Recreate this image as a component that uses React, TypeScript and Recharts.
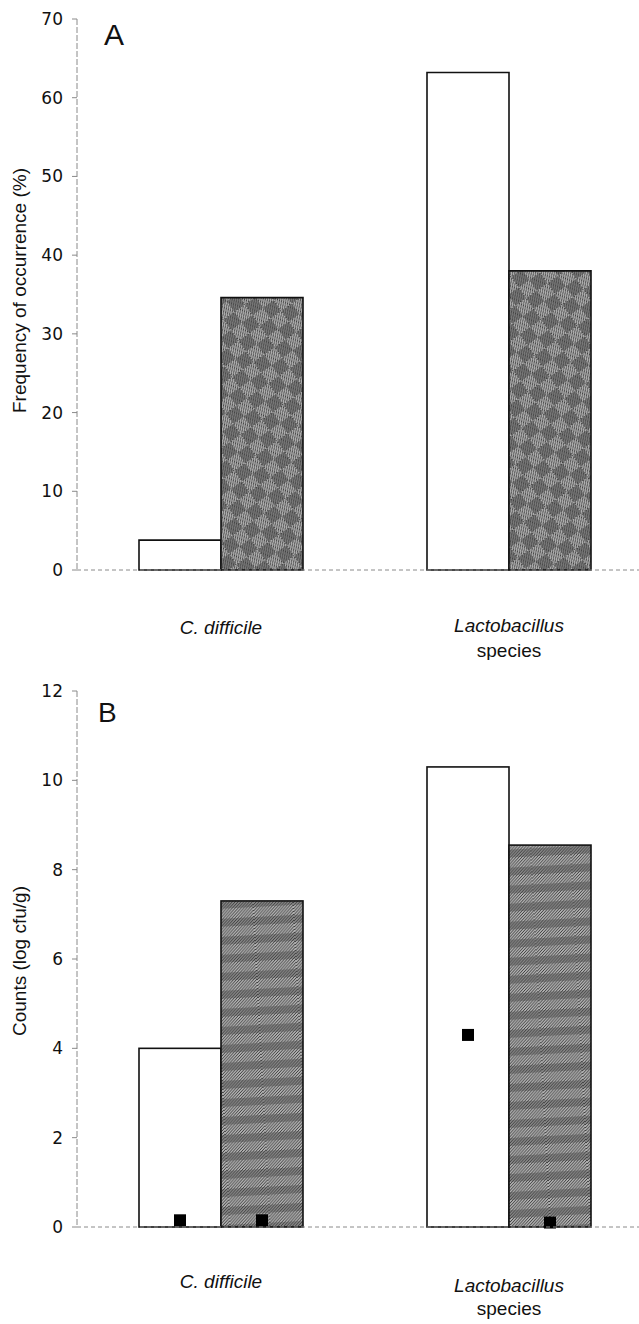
import { BarChart, Bar, XAxis, YAxis, Label } from 'recharts'

const categories = ['C. difficile', 'Lactobacillus species']

// panel A: frequency of occurrence (%)
const freqBefore = [3.8, 63.2]
const freqAfter = [34.6, 38.0]
const freqTicks = [0, 10, 20, 30, 40, 50, 60, 70]

// panel B: counts (log cfu/g), bars and the black square markers
const countBefore = [4.0, 10.3]
const countAfter = [7.3, 8.55]
const markerBefore = [0.15, 4.3]
const markerAfter = [0.15, 0.1]
const countTicks = [0, 2, 4, 6, 8, 10, 12]

const dataA = categories.map((c, i) => ({ name: c, before: freqBefore[i], after: freqAfter[i] }))
const dataB = categories.map((c, i) => ({
  name: c,
  before: countBefore[i],
  after: countAfter[i],
  mBefore: markerBefore[i],
  mAfter: markerAfter[i],
}))

const FONT = '"Liberation Sans", Arial, sans-serif'
const TICK_FONT = '"DejaVu Sans", sans-serif'
const AXIS = '#8a8a8a'

function CatTick({ x, y, payload, dyOne, dyLacto, dyGap }: any) {
  const v: string = payload.value
  if (v.startsWith('Lactobacillus')) {
    return (
      <text x={x} y={y} textAnchor="middle" fontSize={19} fill="#111" fontFamily={FONT}>
        <tspan x={x} dy={dyLacto} fontStyle="italic">Lactobacillus</tspan>
        <tspan x={x} dy={dyGap}>species</tspan>
      </text>
    )
  }
  return (
    <text x={x} y={y} dy={dyOne} textAnchor="middle" fontSize={19} fontStyle="italic" fill="#111" fontFamily={FONT}>
      {v}
    </text>
  )
}

function MarkedBar(props: any) {
  const { x, y, width, height, fill, payload, valueKey, markerKey } = props
  const ppu = height / payload[valueKey]
  const my = y + height - payload[markerKey] * ppu
  return (
    <g>
      <rect x={x} y={y} width={width} height={height} fill={fill} stroke="#111" strokeWidth={1.6} />
      <rect x={x + width / 2 - 6} y={my - 6} width={12} height={12} fill="#000" />
    </g>
  )
}

function Patterns() {
  return (
    <svg width={0} height={0} style={{ position: 'absolute' }}>
      <defs>
        <pattern id="hatch" patternUnits="userSpaceOnUse" width={3} height={3}>
          <rect width={3} height={3} fill="#b0b0b0" />
          <path d="M0,3 L3,0" stroke="#3c3c3c" strokeWidth={1} />
        </pattern>
        <pattern id="checkA" patternUnits="userSpaceOnUse" width={26} height={26} patternTransform="rotate(-35)">
          <rect width={26} height={26} fill="url(#hatch)" />
          <rect x={0} y={0} width={13} height={13} fill="#444" opacity={0.5} />
          <rect x={13} y={13} width={13} height={13} fill="#444" opacity={0.5} />
        </pattern>
        <pattern id="stripeB" patternUnits="userSpaceOnUse" width={40} height={18} patternTransform="rotate(-3)">
          <rect width={40} height={18} fill="url(#hatch)" />
          <rect x={0} y={0} width={40} height={8} fill="#444" opacity={0.4} />
        </pattern>
      </defs>
    </svg>
  )
}

export default function App() {
  return (
    <div style={{ position: 'absolute', left: 0, top: 0, width: 639, height: 1324, overflow: 'hidden', background: '#fff', fontFamily: FONT }}>
      <Patterns />
      <div style={{ position: 'absolute', left: 104, top: 18, fontSize: 30, color: '#111' }}>A</div>
      <div style={{ position: 'absolute', left: 98, top: 697, fontSize: 28, color: '#111' }}>B</div>

      <div style={{ position: 'absolute', left: 0, top: 0 }}>
        <BarChart width={660} height={660} data={dataA} margin={{ top: 19, right: 7, left: 17, bottom: 60 }} barGap={0} barSize={82}>
          <XAxis
            dataKey="name"
            tickLine={false}
            axisLine={{ stroke: AXIS, strokeDasharray: '4 3' }}
            tick={<CatTick dyOne={56} dyLacto={54} dyGap={25} />}
            interval={0}
          />
          <YAxis
            width={60}
            domain={[0, 70]}
            ticks={freqTicks}
            interval={0}
            tickSize={5}
            tickMargin={9}
            axisLine={{ stroke: AXIS, strokeDasharray: '6 2' }}
            tickLine={{ stroke: AXIS }}
            tick={{ fontSize: 17, fill: '#111', fontFamily: TICK_FONT }}
          >
            <Label value="Frequency of occurrence (%)" angle={-90} position="center" dx={-28} dy={-4} fontSize={19} fill="#111" fontFamily={FONT} />
          </YAxis>
          <Bar dataKey="before" fill="#fff" stroke="#111" strokeWidth={1.6} isAnimationActive={false} />
          <Bar dataKey="after" fill="url(#checkA)" stroke="#111" strokeWidth={1.6} isAnimationActive={false} />
        </BarChart>
      </div>

      <div style={{ position: 'absolute', left: 0, top: 660 }}>
        <BarChart width={660} height={664} data={dataB} margin={{ top: 31, right: 7, left: 17, bottom: 67 }} barGap={0} barSize={82}>
          <XAxis
            dataKey="name"
            tickLine={false}
            axisLine={{ stroke: AXIS, strokeDasharray: '4 3' }}
            tick={<CatTick dyOne={53} dyLacto={57} dyGap={23} />}
            interval={0}
          />
          <YAxis
            width={60}
            domain={[0, 12]}
            ticks={countTicks}
            interval={0}
            tickSize={5}
            tickMargin={9}
            axisLine={{ stroke: AXIS, strokeDasharray: '6 2' }}
            tickLine={{ stroke: AXIS }}
            tick={{ fontSize: 17, fill: '#111', fontFamily: TICK_FONT }}
          >
            <Label value="Counts (log cfu/g)" angle={-90} position="center" dx={-28} dy={2} fontSize={19} fill="#111" fontFamily={FONT} />
          </YAxis>
          <Bar
            dataKey="before"
            fill="#fff"
            isAnimationActive={false}
            shape={(p: any) => <MarkedBar {...p} valueKey="before" markerKey="mBefore" />}
          />
          <Bar
            dataKey="after"
            fill="url(#stripeB)"
            isAnimationActive={false}
            shape={(p: any) => <MarkedBar {...p} valueKey="after" markerKey="mAfter" />}
          />
        </BarChart>
      </div>
    </div>
  )
}
